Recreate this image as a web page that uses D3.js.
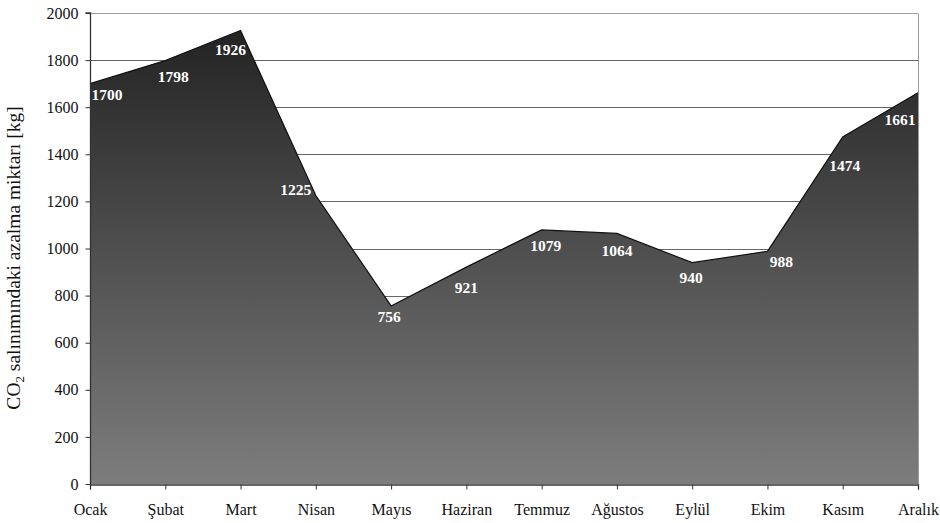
<!DOCTYPE html>
<html>
<head>
<meta charset="utf-8">
<script src="https://cdn.jsdelivr.net/npm/d3@7"></script>
<style>
  html, body { margin: 0; padding: 0; background: #fff; }
  svg { display: block; font-family: "Liberation Serif", "Times New Roman", serif; }
</style>
</head>
<body>
<svg id="chart" width="940" height="523"></svg>
<script>
// Monthly reduction of CO2 emissions (kg)
const months = ["Ocak", "Şubat", "Mart", "Nisan", "Mayıs", "Haziran",
                "Temmuz", "Ağustos", "Eylül", "Ekim", "Kasım", "Aralık"];
const reduction = [1700, 1798, 1926, 1225, 756, 921, 1079, 1064, 940, 988, 1474, 1661];
const yTicks = [0, 200, 400, 600, 800, 1000, 1200, 1400, 1600, 1800, 2000];

// label nudges relative to each point, in pixels
const labelDx = [17, 8, -10, -20, -2, 0, 4, 0, -1, 14, 2, -18];
const labelDy = [11, 16, 19, -6, 11, 20, 16, 17, 15, 10, 29, 27];

const svg = d3.select("#chart");
const W = 940, H = 523;
const margin = { top: 13, right: 22, bottom: 39, left: 90 };
const x0 = margin.left, x1 = W - margin.right;
const y0 = H - margin.bottom, y1 = margin.top;

const x = d3.scalePoint().domain(months).range([x0, x1]);
const y = d3.scaleLinear().domain([0, 2000]).range([y0, y1]);

// gradient for the area fill, anchored to the plot box
const defs = svg.append("defs");
const grad = defs.append("linearGradient")
  .attr("id", "areaFill")
  .attr("gradientUnits", "userSpaceOnUse")
  .attr("x1", 0).attr("x2", 0)
  .attr("y1", y1).attr("y2", y0);
grad.append("stop").attr("offset", "0%").attr("stop-color", "#202020");
grad.append("stop").attr("offset", "100%").attr("stop-color", "#7d7d7d");

// horizontal gridlines
svg.append("g")
  .selectAll("line")
  .data(yTicks.filter(t => t > 0))
  .join("line")
  .attr("x1", x0).attr("x2", x1)
  .attr("y1", d => Math.round(y(d)) + 0.5)
  .attr("y2", d => Math.round(y(d)) + 0.5)
  .attr("stroke", d => d === 2000 ? "#9a9a9a" : "#666")
  .attr("stroke-width", 1.1);

// right border of the plot area
svg.append("line")
  .attr("x1", Math.round(x1) + 0.5).attr("x2", Math.round(x1) + 0.5)
  .attr("y1", Math.round(y1) + 0.5).attr("y2", y0)
  .attr("stroke", "#9a9a9a");

// area
const area = d3.area()
  .x(d => x(d.m))
  .y0(y(0))
  .y1(d => y(d.v));
const line = d3.line()
  .x(d => x(d.m))
  .y(d => y(d.v));
const pts = months.map((m, i) => ({ m, v: reduction[i], i }));

svg.append("path")
  .datum(pts)
  .attr("d", area)
  .attr("fill", "url(#areaFill)");
svg.append("path")
  .datum(pts)
  .attr("d", line)
  .attr("fill", "none")
  .attr("stroke", "#111")
  .attr("stroke-width", 1.2);

// value labels
svg.append("g")
  .selectAll("text")
  .data(pts)
  .join("text")
  .attr("x", d => x(d.m) + labelDx[d.i])
  .attr("y", d => y(d.v) + labelDy[d.i])
  .attr("text-anchor", "middle")
  .attr("dominant-baseline", "central")
  .attr("fill", "#ffffff")
  .attr("font-size", 15.5)
  .attr("font-weight", "bold")
  .text(d => d.v);

// axes
const yAxis = svg.append("g")
  .attr("transform", `translate(${x0 + 0.5},0)`)
  .call(d3.axisLeft(y).tickValues(yTicks).tickSize(5).tickPadding(7).tickFormat(d3.format("d")));
const xAxis = svg.append("g")
  .attr("transform", `translate(0,${Math.round(y0) + 0.5})`)
  .call(d3.axisBottom(x).tickSize(5).tickPadding(14));

[yAxis, xAxis].forEach(g => {
  g.select(".domain").attr("stroke", "#333").attr("stroke-width", 1.3);
  g.selectAll(".tick line").attr("stroke", "#333");
  g.selectAll(".tick text")
    .attr("fill", "#111")
    .attr("font-size", 16)
    .attr("font-family", "Liberation Serif, Times New Roman, serif");
});
yAxis.select(".domain").attr("d", `M-5,${y1}H0V${y0}`);

// y axis title
const title = svg.append("text")
  .attr("transform", "rotate(-90)")
  .attr("x", -258)
  .attr("y", 20)
  .attr("text-anchor", "middle")
  .attr("font-size", 19.5)
  .attr("fill", "#111");
title.append("tspan").text("CO");
title.append("tspan").attr("font-size", 13).attr("dy", 4).text("2");
title.append("tspan").attr("dy", -4).text(" salınımındaki azalma miktarı [kg]");
</script>
</body>
</html>
